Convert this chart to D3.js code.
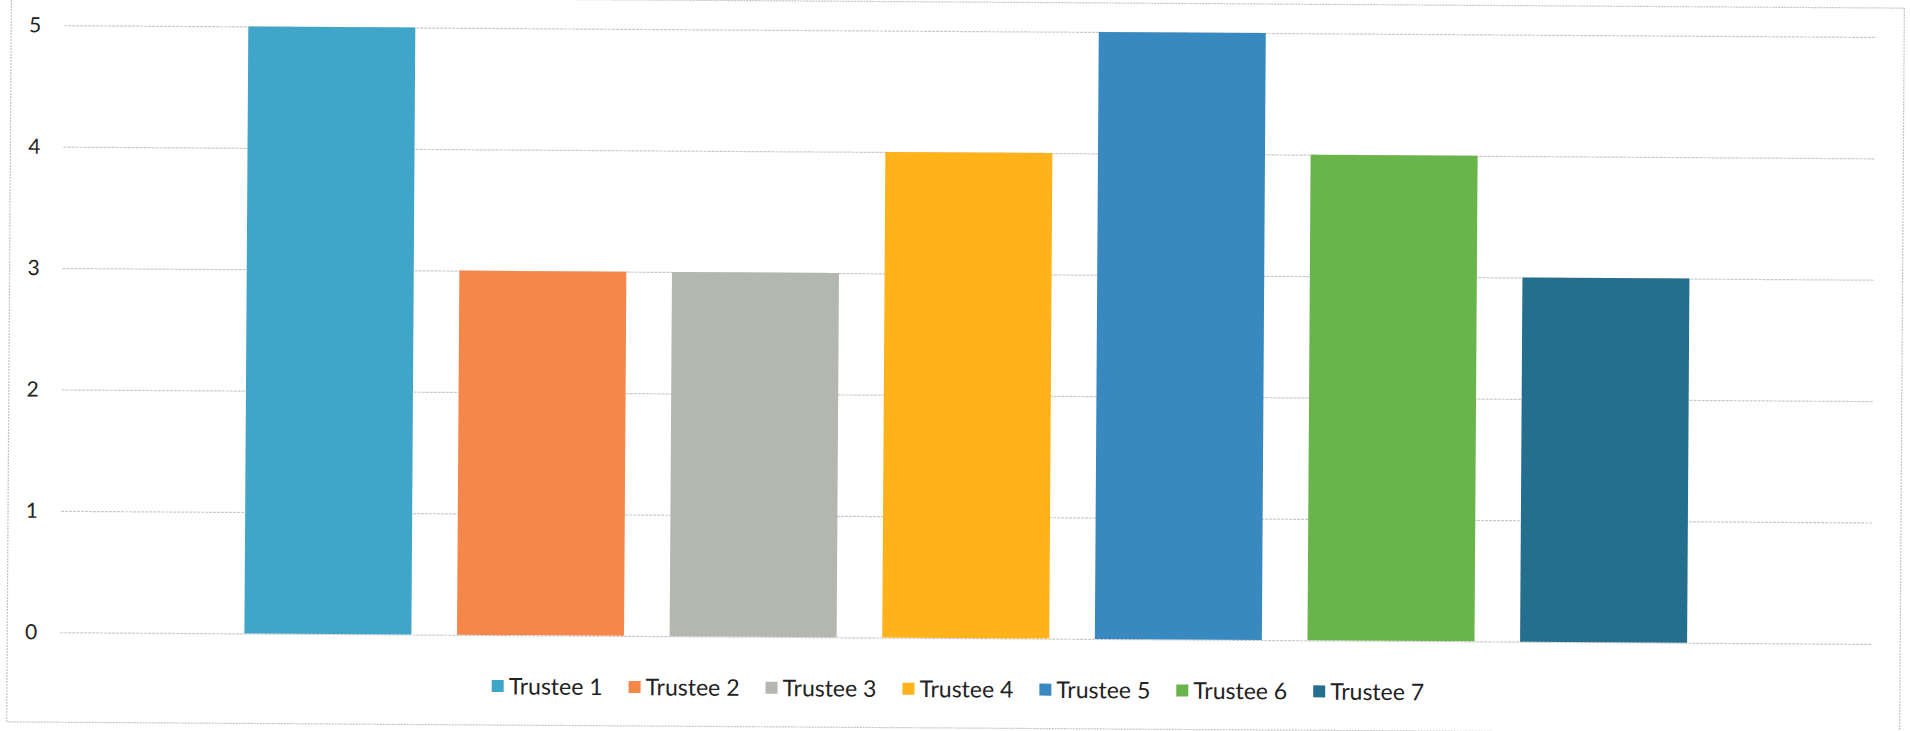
<!DOCTYPE html>
<html>
<head>
<meta charset="utf-8">
<script src="https://cdn.jsdelivr.net/npm/d3@7"></script>
<style>
  html, body { margin: 0; padding: 0; background: #fff; }
  svg { display: block; }
  text { font-family: Lato, "Open Sans", sans-serif; fill: #222; }
</style>
</head>
<body>
<svg id="chart" width="1910" height="731"></svg>
<script>
// Scores per trustee
const trustees = ["Trustee 1", "Trustee 2", "Trustee 3", "Trustee 4", "Trustee 5", "Trustee 6", "Trustee 7"];
const scores = [5, 3, 3, 4, 5, 4, 3];
const barColors = ["#3fa5c9", "#f5874a", "#b3b7b0", "#ffb21a", "#3789bf", "#69b44b", "#246f8e"];
const yTicks = [0, 1, 2, 3, 4, 5];

const W = 1910, H = 731;
const plot = { left: 62, right: 1873, top: 31, bottom: 638 };

const svg = d3.select("#chart");
const root = svg.append("g").attr("transform", `rotate(0.37, ${W / 2}, ${H / 2})`);

// Chart frame
root.append("rect")
  .attr("x", 9).attr("y", 2)
  .attr("width", 1893).attr("height", 726)
  .attr("fill", "none")
  .attr("stroke", "#c4c4c4")
  .attr("stroke-width", 1.2)
  .attr("stroke-dasharray", "2,1");

const x = d3.scaleBand()
  .domain(trustees)
  .range([plot.left, plot.right])
  .paddingInner(0.2145)
  .paddingOuter(0.866);

const y = d3.scaleLinear()
  .domain([0, 5])
  .range([plot.bottom, plot.top]);

// Value axis with gridlines
const yAxis = root.append("g")
  .attr("transform", `translate(${plot.left},0)`)
  .call(d3.axisLeft(y)
    .tickValues(yTicks)
    .tickFormat(d3.format("d"))
    .tickSize(-(plot.right - plot.left))
    .tickPadding(23));
yAxis.select(".domain").remove();
yAxis.selectAll(".tick line")
  .attr("stroke", "#cbcbcb")
  .attr("stroke-width", 1.2)
  .attr("stroke-dasharray", "3,1");
yAxis.selectAll(".tick text")
  .attr("font-size", 21)
  .attr("font-family", "Lato, 'Open Sans', sans-serif")
  .attr("fill", "#222");

// Bars
root.append("g")
  .selectAll("rect")
  .data(trustees)
  .join("rect")
  .attr("x", d => x(d))
  .attr("width", x.bandwidth())
  .attr("y", (d, i) => y(scores[i]))
  .attr("height", (d, i) => y(0) - y(scores[i]))
  .attr("fill", (d, i) => barColors[i]);

// Legend
const legend = root.append("g").attr("class", "legend");
const items = legend.selectAll("g")
  .data(trustees)
  .join("g");
items.append("rect")
  .attr("width", 12).attr("height", 12)
  .attr("y", -6)
  .attr("fill", (d, i) => barColors[i]);
items.append("text")
  .attr("x", 17)
  .attr("dy", "0.36em")
  .attr("font-size", 23)
  .text(d => d);

const gap = 26;
let offset = 0;
items.each(function () {
  const w = this.getBBox().width;
  d3.select(this).attr("transform", `translate(${offset},0)`);
  offset += w + gap;
});
const legendWidth = offset - gap;
legend.attr("transform", `translate(${960 - legendWidth / 2}, 689)`);
</script>
</body>
</html>
